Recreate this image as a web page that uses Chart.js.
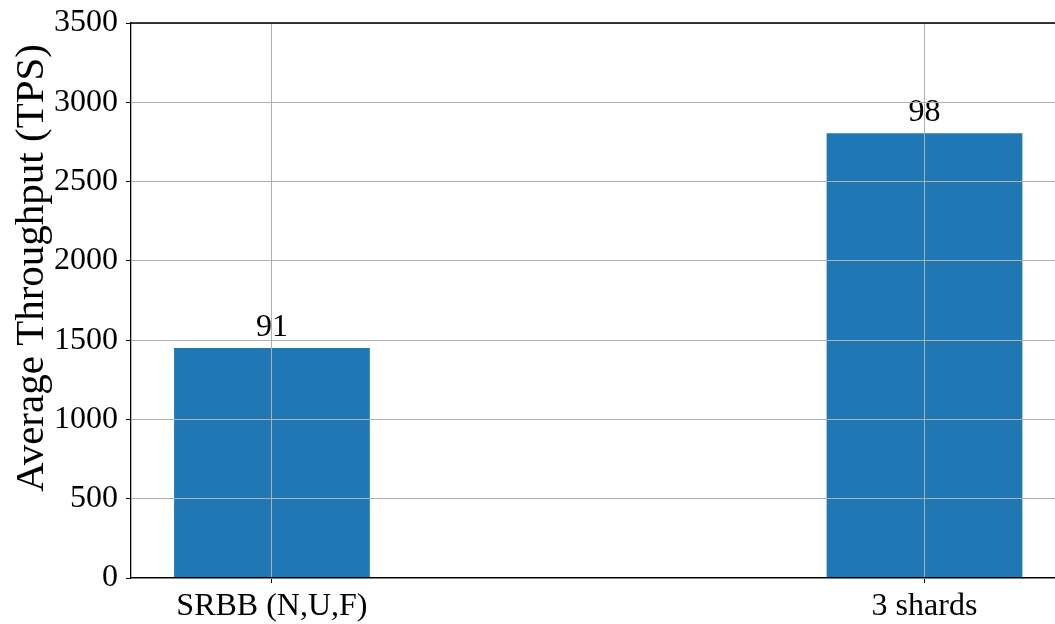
<!DOCTYPE html>
<html>
<head>
<meta charset="utf-8">
<script src="https://cdn.jsdelivr.net/npm/chart.js@4.4.1/dist/chart.umd.min.js"></script>
<style>
    html, body { margin: 0; padding: 0; background: #fff; }
    #wrap { width: 1055px; height: 624px; }
</style>
</head>
<body>
<div id="wrap"><canvas id="throughputChart"></canvas></div>
<script>
// Throughput per setup
const categories = ['SRBB (N,U,F)', '3 shards'];
const positions = [0, 1];
const throughput = [1450, 2805];
const barLabels = ['91', '98'];
const yTicks = [0, 500, 1000, 1500, 2000, 2500, 3000, 3500];

const FONT = "'Liberation Serif', 'Times New Roman', serif";

// Value labels above bars (drawn before the grid so lines pass over them)
const barLabelPlugin = {
    id: 'barLabels',
    afterDatasetsDraw(chart) {
        const ctx = chart.ctx;
        const meta = chart.getDatasetMeta(0);
        ctx.save();
        ctx.font = '32px ' + FONT;
        ctx.fillStyle = '#000';
        ctx.textAlign = 'center';
        ctx.textBaseline = 'alphabetic';
        meta.data.forEach((bar, i) => {
            ctx.fillText(barLabels[i], bar.x, bar.y - 12);
        });
        ctx.restore();
    }
};

// Top spine and rotated y title
const framePlugin = {
    id: 'frame',
    afterDraw(chart) {
        const ctx = chart.ctx;
        const area = chart.chartArea;
        ctx.save();
        ctx.strokeStyle = '#000';
        ctx.lineWidth = 1.3;
        ctx.beginPath();
        ctx.moveTo(area.left, area.top);
        ctx.lineTo(area.right, area.top);
        ctx.stroke();

        ctx.translate(32, 268);
        ctx.rotate(-Math.PI / 2);
        ctx.font = '41px ' + FONT;
        ctx.fillStyle = '#000';
        ctx.textAlign = 'center';
        ctx.textBaseline = 'middle';
        ctx.fillText('Average Throughput (TPS)', 0, 0);
        ctx.restore();
    }
};

const ctx = document.getElementById('throughputChart');
new Chart(ctx, {
    type: 'bar',
    data: {
        datasets: [{
            data: positions.map((x, i) => ({ x: x, y: throughput[i] })),
            backgroundColor: '#1f77b4',
            borderWidth: 0,
            barPercentage: 0.3,
            categoryPercentage: 1.0
        }]
    },
    options: {
        responsive: true,
        maintainAspectRatio: false,
        animation: false,
        layout: { padding: { top: 23, right: 0, left: 0, bottom: 0 } },
        plugins: {
            legend: { display: false },
            tooltip: { enabled: false }
        },
        scales: {
            x: {
                type: 'linear',
                min: -0.216,
                max: 1.2,
                offset: false,
                afterBuildTicks: axis => {
                    axis.ticks = positions.map(v => ({ value: v }));
                },
                afterFit: axis => {
                    axis.height = 46;
                    axis.paddingLeft = 0;
                    axis.paddingRight = 0;
                },
                grid: {
                    offset: false,
                    color: '#b0b0b0',
                    lineWidth: 1,
                    tickColor: '#000',
                    tickLength: 5,
                    z: 1
                },
                border: { color: '#000', width: 1.3, z: 2 },
                ticks: {
                    color: '#000',
                    padding: 4,
                    maxRotation: 0,
                    font: { family: FONT, size: 32 },
                    callback: (value) => categories[positions.indexOf(value)]
                }
            },
            y: {
                min: 0,
                max: 3500,
                afterBuildTicks: axis => {
                    axis.ticks = yTicks.map(v => ({ value: v }));
                },
                afterFit: axis => {
                    axis.width = 131;
                    axis.paddingTop = 0;
                    axis.paddingBottom = 0;
                },
                grid: {
                    color: '#b0b0b0',
                    lineWidth: 1,
                    tickColor: '#000',
                    tickLength: 5,
                    z: 1
                },
                border: { color: '#000', width: 1.3, z: 2 },
                ticks: {
                    color: '#000',
                    padding: 8,
                    font: { family: FONT, size: 32 },
                    callback: (value) => String(value)
                }
            }
        }
    },
    plugins: [barLabelPlugin, framePlugin]
});
</script>
</body>
</html>
